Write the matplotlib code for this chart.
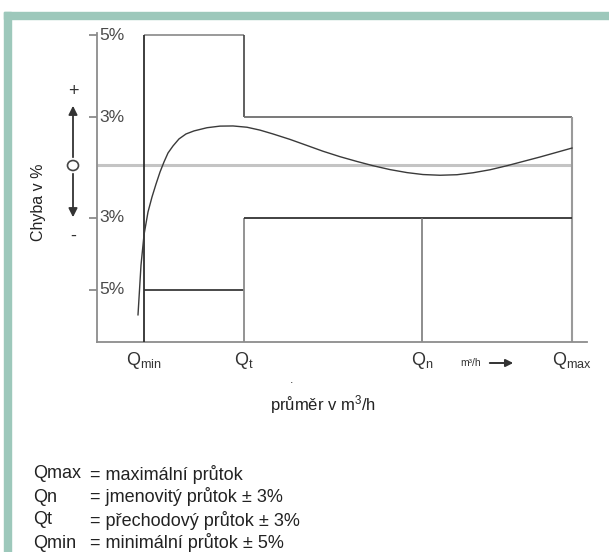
import numpy as np
import matplotlib.pyplot as plt
from matplotlib.patches import Rectangle, Circle

plt.rcParams['font.family'] = ['Liberation Sans', 'DejaVu Sans']
plt.rcParams['mathtext.fontset'] = 'custom'
plt.rcParams['mathtext.rm'] = 'Liberation Sans'
plt.rcParams['mathtext.it'] = 'Liberation Sans'

# prutoky (schematicka osa x)
q_labels = ['Q$_{\\mathrm{min}}$', 'Q$_{\\mathrm{t}}$', 'Q$_{\\mathrm{n}}$', 'Q$_{\\mathrm{max}}$']
q_x = [47, 147, 325, 475]

# meze chyby v %
upper_err = [5, 3]      # Qmin-Qt, Qt-Qmax
lower_err = [-5, -3]
err_ticks = [5, 3, -3, -5]
err_ticklabels = ['5%', '3%', '3%', '5%']

# chybova krivka vodomeru
curve_x = [41, 44, 47, 51, 55, 59, 63, 67, 71, 76, 82, 89, 97, 110, 123, 136,
           150, 163, 176, 193, 210, 226, 243, 260, 276, 293, 310, 326, 343,
           360, 376, 393, 410, 426, 443, 459, 475]
curve_err = [-5.69, -4.31, -3.47, -2.66, -1.81, -1.08, -0.40, 0.19, 0.75, 1.19,
             1.63, 1.94, 2.13, 2.33, 2.43, 2.44, 2.36, 2.18, 1.94, 1.60, 1.22,
             0.86, 0.52, 0.22, -0.04, -0.26, -0.43, -0.54, -0.58, -0.55, -0.44,
             -0.27, -0.04, 0.22, 0.50, 0.78, 1.06]

legend_names = ['Qmax', 'Qn', 'Qt', 'Qmin']
legend_texts = ['= maximální průtok', '= jmenovitý průtok ± 3%',
                '= přechodový průtok ± 3%', '= minimální průtok ± 5%']

W, H = 609, 552


def fx(px):
    return px / W


def fy(py):
    return 1 - py / H


# nelinearni schematicka osa y
knot_err = [-8, -5, -3, 0, 3, 5, 8]
knot_pos = [-56, 52, 124, 177, 225, 307, 430]


def fwd(v):
    return np.interp(v, knot_err, knot_pos)


def inv(v):
    return np.interp(v, knot_pos, knot_err)


Y_BOTTOM = float(inv(0))
Y_TOP = float(inv(309))

fig = plt.figure(figsize=(W / 100, H / 100), dpi=100)

# zeleny ramecek
green = '#9dc8bb'
fig.patches.append(Rectangle((fx(4), fy(19)), 1, fy(12) - fy(19), transform=fig.transFigure,
                             color=green, zorder=0))
fig.patches.append(Rectangle((fx(4), 0), fx(11) - fx(4), fy(12), transform=fig.transFigure,
                             color=green, zorder=0))

ax = fig.add_axes([fx(97), fy(342), fx(587) - fx(97), fy(33) - fy(342)])
ax.set_yscale('function', functions=(fwd, inv))
ax.set_xlim(0, 490)
ax.set_ylim(Y_BOTTOM, Y_TOP)
ax.patch.set_alpha(0)

for s in ['top', 'right']:
    ax.spines[s].set_visible(False)
for s in ['left', 'bottom']:
    ax.spines[s].set_color('#8c8c8c')
    ax.spines[s].set_linewidth(1.3)

ax.set_xticks([])
ax.set_yticks(err_ticks)
ax.set_yticklabels([])
ax.yaxis.set_minor_locator(plt.NullLocator())
ax.tick_params(axis='y', direction='out', length=6, width=1.1, color='#777777')
for e, lab in zip(err_ticks, err_ticklabels):
    ax.text(2, e, lab, ha='left', va='center', fontsize=12.5, color='#4a4a4a')

# nulova cara
ax.hlines(0, 0, q_x[3], color='#c4c4c4', lw=2.2, zorder=1)

# horni mez
ax.vlines(q_x[0], Y_BOTTOM, upper_err[0], color='#2e2e2e', lw=1.3, zorder=3)
ax.hlines(upper_err[0], q_x[0], q_x[1], color='#9a9a9a', lw=1.4)
ax.vlines(q_x[1], upper_err[1], upper_err[0], color='#444444', lw=1.2)
ax.hlines(upper_err[1], q_x[1], q_x[3], color='#6e6e6e', lw=1.3)
ax.vlines(q_x[3], Y_BOTTOM, upper_err[1], color='#9a9a9a', lw=1.5)

# dolni mez
ax.hlines(lower_err[0], q_x[0], q_x[1], color='#3a3a3a', lw=1.3)
ax.vlines(q_x[1], Y_BOTTOM, lower_err[1], color='#8a8a8a', lw=1.3)
ax.hlines(lower_err[1], q_x[1], q_x[3], color='#333333', lw=1.3)
ax.vlines(q_x[2], Y_BOTTOM, lower_err[1], color='#7a7a7a', lw=1.2)

# chybova krivka
ax.plot(curve_x, curve_err, color='#3a3a3a', lw=1.0, zorder=4)

# popisky prutoku
for q, lab in zip(q_x, q_labels):
    ax.annotate(lab, xy=(q, 0), xycoords=('data', 'axes fraction'), xytext=(0, -6),
                textcoords='offset points', ha='center', va='top', fontsize=13,
                color='#333333')

fig.text(fx(471), fy(363), 'm³/h', ha='center', va='center', fontsize=7.5, color='#333333')
ax.annotate('', xy=(fx(516), fy(363)), xycoords='figure fraction',
            xytext=(fx(487), fy(363)), textcoords='figure fraction',
            arrowprops=dict(arrowstyle='-|>', color='#333333', lw=1.4, mutation_scale=11))
fig.text(fx(292), fy(380), '.', ha='center', va='center', fontsize=9, color='#333333')
fig.text(fx(323), fy(405), 'průměr v m$^3$/h', ha='center', va='center', fontsize=12,
         color='#222222')

# popis osy y se sipkami
fig.text(fx(38), fy(202), 'Chyba v %', rotation=90, ha='center', va='center',
         fontsize=11.5, color='#222222')
fig.text(fx(73), fy(92), '+', ha='center', va='center', fontsize=13, color='#333333')
fig.text(fx(73), fy(236), '-', ha='center', va='center', fontsize=13, color='#333333')
ax.annotate('', xy=(fx(73), fy(103)), xycoords='figure fraction',
            xytext=(fx(73), fy(160)), textcoords='figure fraction',
            arrowprops=dict(arrowstyle='-|>', color='#333333', lw=1.3, mutation_scale=13))
ax.annotate('', xy=(fx(73), fy(220)), xycoords='figure fraction',
            xytext=(fx(73), fy(171)), textcoords='figure fraction',
            arrowprops=dict(arrowstyle='-|>', color='#333333', lw=1.3, mutation_scale=13))
fig.patches.append(Circle((fx(73), fy(165.5)), 5.5 / W, transform=fig.transFigure,
                          facecolor='white', edgecolor='#444444', lw=1.2, zorder=5))

# legenda
for i, (name, txt) in enumerate(zip(legend_names, legend_texts)):
    y = fy(474 + i * 23)
    fig.text(fx(33), y, name, ha='left', va='center', fontsize=13, color='#222222')
    fig.text(fx(90), y, txt, ha='left', va='center', fontsize=13, color='#222222')

fig.savefig('out.png', dpi=100)
